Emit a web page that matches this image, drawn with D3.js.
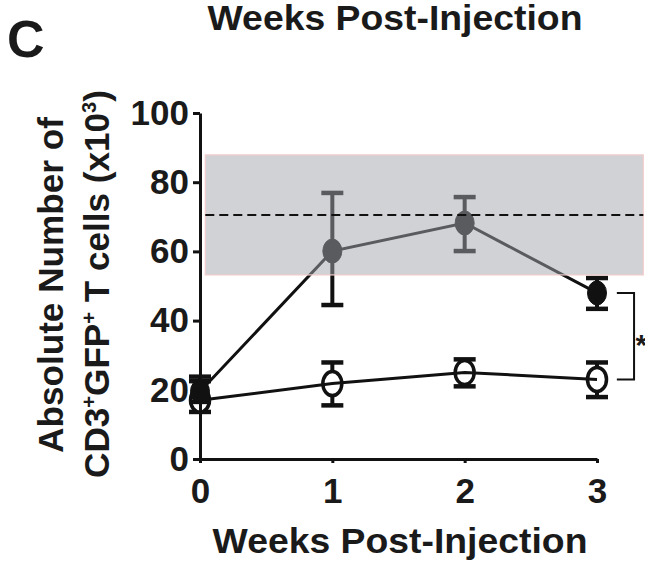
<!DOCTYPE html>
<html><head><meta charset="utf-8">
<script src="https://cdn.jsdelivr.net/npm/d3@7"></script>
<style>
body{margin:0;background:#fff}
svg text{font-family:"Liberation Sans",Arial,Helvetica,sans-serif;font-weight:bold;fill:#1a1a1a}
</style>
</head><body>
<svg id="chart" width="645" height="563"></svg>
<script>
// ---- data ----
const weeks = [0, 1, 2, 3];
const xTickValues = [0, 1, 2, 3];
const yTickValues = [0, 20, 40, 60, 80, 100];
// filled (solid) group
const filledMean = [19.5, 60.1, 68.2, 48.0];
const filledLow  = [16.5, 44.5, 60.1, 43.4];
const filledHigh = [23.8, 76.9, 75.7, 52.3];
// open group
const openMean = [17.0, 21.8, 25.0, 23.0];
const openLow  = [13.6, 15.5, 21.0, 17.9];
const openHigh = [22.5, 27.9, 28.8, 27.9];
// normal range band and its mean
const rangeWeeks = [0.04, 3.35];
const rangeLow = 53.2, rangeHigh = 87.9, rangeMean = 70.5;
// significance bracket (between the two groups at week 3)
const bracketWeeks = [3.15, 3.28];
const starWeek = 3.29;
const starLabel = "*";
const panelLabel = "C";
const topTitle = "Weeks Post-Injection";
const xTitle = "Weeks Post-Injection";
const yTitle1 = "Absolute Number of";

// ---- scales ----
const svg = d3.select("#chart");
const x = d3.scaleLinear().domain([0, 3]).range([200, 597]);
const y = d3.scaleLinear().domain([0, 100]).range([459, 113]);

function fit(sel, target) {
  const w = sel.node().getComputedTextLength();
  const t = sel.attr("transform") || "";
  sel.attr("transform", t + ` scale(${target / w},1)`);
}

const rx = 9.5, ry = 12, cap = 11;

function drawSeries(mean, low, high, filled) {
  const g = svg.append("g");
  weeks.forEach((w, i) => {
    g.append("line").attr("x1", x(w)).attr("x2", x(w))
      .attr("y1", y(low[i])).attr("y2", y(high[i]))
      .attr("stroke", "#111").attr("stroke-width", 4);
    [low[i], high[i]].forEach(v => {
      g.append("line").attr("x1", x(w) - cap).attr("x2", x(w) + cap)
        .attr("y1", y(v)).attr("y2", y(v))
        .attr("stroke", "#111").attr("stroke-width", 4.5);
    });
  });
  const line = d3.line().x((d, i) => x(weeks[i])).y(d => y(d));
  if (filled) {
    g.append("path").datum(mean).attr("d", line)
      .attr("fill", "none").attr("stroke", "#111").attr("stroke-width", 3);
  }
  g.selectAll("ellipse").data(mean).join("ellipse")
    .attr("cx", (d, i) => x(weeks[i])).attr("cy", d => y(d))
    .attr("rx", rx).attr("ry", ry)
    .attr("fill", filled ? "#111" : "#fff")
    .attr("stroke", "#111").attr("stroke-width", filled ? 1 : 3.5);
  if (!filled) {
    g.append("path").datum(mean).attr("d", line)
      .attr("fill", "none").attr("stroke", "#111").attr("stroke-width", 3);
  }
}

drawSeries(openMean, openLow, openHigh, false);
drawSeries(filledMean, filledLow, filledHigh, true);

// normal range band (translucent, over the data)
svg.append("rect")
  .attr("x", x(rangeWeeks[0])).attr("width", x(rangeWeeks[1]) - x(rangeWeeks[0]))
  .attr("y", y(rangeHigh)).attr("height", y(rangeLow) - y(rangeHigh))
  .attr("fill", "#a3a5ae").attr("fill-opacity", 0.5)
  .attr("stroke", "#f3cccc").attr("stroke-width", 1.2);
svg.append("line")
  .attr("x1", x(rangeWeeks[0])).attr("x2", x(rangeWeeks[1]))
  .attr("y1", y(rangeMean)).attr("y2", y(rangeMean))
  .attr("stroke", "#111").attr("stroke-width", 2).attr("stroke-dasharray", "9,5");

// significance bracket
const bTop = y(filledMean[3]), bBot = y(openMean[3]);
svg.append("path")
  .attr("d", `M${x(bracketWeeks[0])},${bTop}H${x(bracketWeeks[1])}V${bBot}H${x(bracketWeeks[0])}`)
  .attr("fill", "none").attr("stroke", "#111").attr("stroke-width", 2);
svg.append("text").attr("x", x(starWeek)).attr("y", (bTop + bBot) / 2 + 19)
  .attr("font-size", 30).text(starLabel);

// axes
const yAxis = svg.append("g").attr("transform", `translate(${x(0)},0)`)
  .call(d3.axisLeft(y).tickValues(yTickValues).tickSize(7).tickSizeOuter(0).tickPadding(4).tickFormat(d3.format("d")));
const xAxis = svg.append("g").attr("transform", `translate(0,${y(0)})`)
  .call(d3.axisBottom(x).tickValues(xTickValues).tickSize(4).tickSizeOuter(0).tickPadding(15).tickFormat(d3.format("d")));
[yAxis, xAxis].forEach(a => {
  a.select(".domain").attr("stroke", "#111").attr("stroke-width", 3);
  a.selectAll(".tick line").attr("stroke", "#111").attr("stroke-width", 3);
  a.selectAll(".tick text").attr("font-size", 35).attr("fill", "#1a1a1a")
    .style("font-family", '"Liberation Sans",Arial,sans-serif').style("font-weight", "bold");
});

// titles
svg.append("text").attr("x", 7).attr("y", 57).attr("font-size", 52).text(panelLabel);

const tt = svg.append("text").attr("text-anchor", "middle").attr("font-size", 35)
  .attr("transform", "translate(395,30)").text(topTitle);
fit(tt, 375);

const xt = svg.append("text").attr("text-anchor", "middle").attr("font-size", 36)
  .attr("transform", "translate(400,553)").text(xTitle);
fit(xt, 375);

const y1 = svg.append("text").attr("text-anchor", "middle").attr("font-size", 35)
  .attr("transform", "translate(63,285) rotate(-90)").text(yTitle1);
fit(y1, 336);

const y2 = svg.append("text").attr("text-anchor", "middle").attr("font-size", 35)
  .attr("transform", "translate(109,284) rotate(-90)");
const parts = [["CD3", 0], ["+", 1], ["GFP", 0], ["+", 1], [" T cells (x10", 0], ["3", 1], [")", 0]];
let prevSup = false;
parts.forEach(([t, sup]) => {
  const ts = y2.append("tspan").text(t);
  if (sup) { ts.attr("font-size", 20).attr("dy", prevSup ? 0 : -13); }
  else if (prevSup) { ts.attr("dy", 13); }
  prevSup = !!sup;
});
fit(y2, 388);
</script>
</body></html>
